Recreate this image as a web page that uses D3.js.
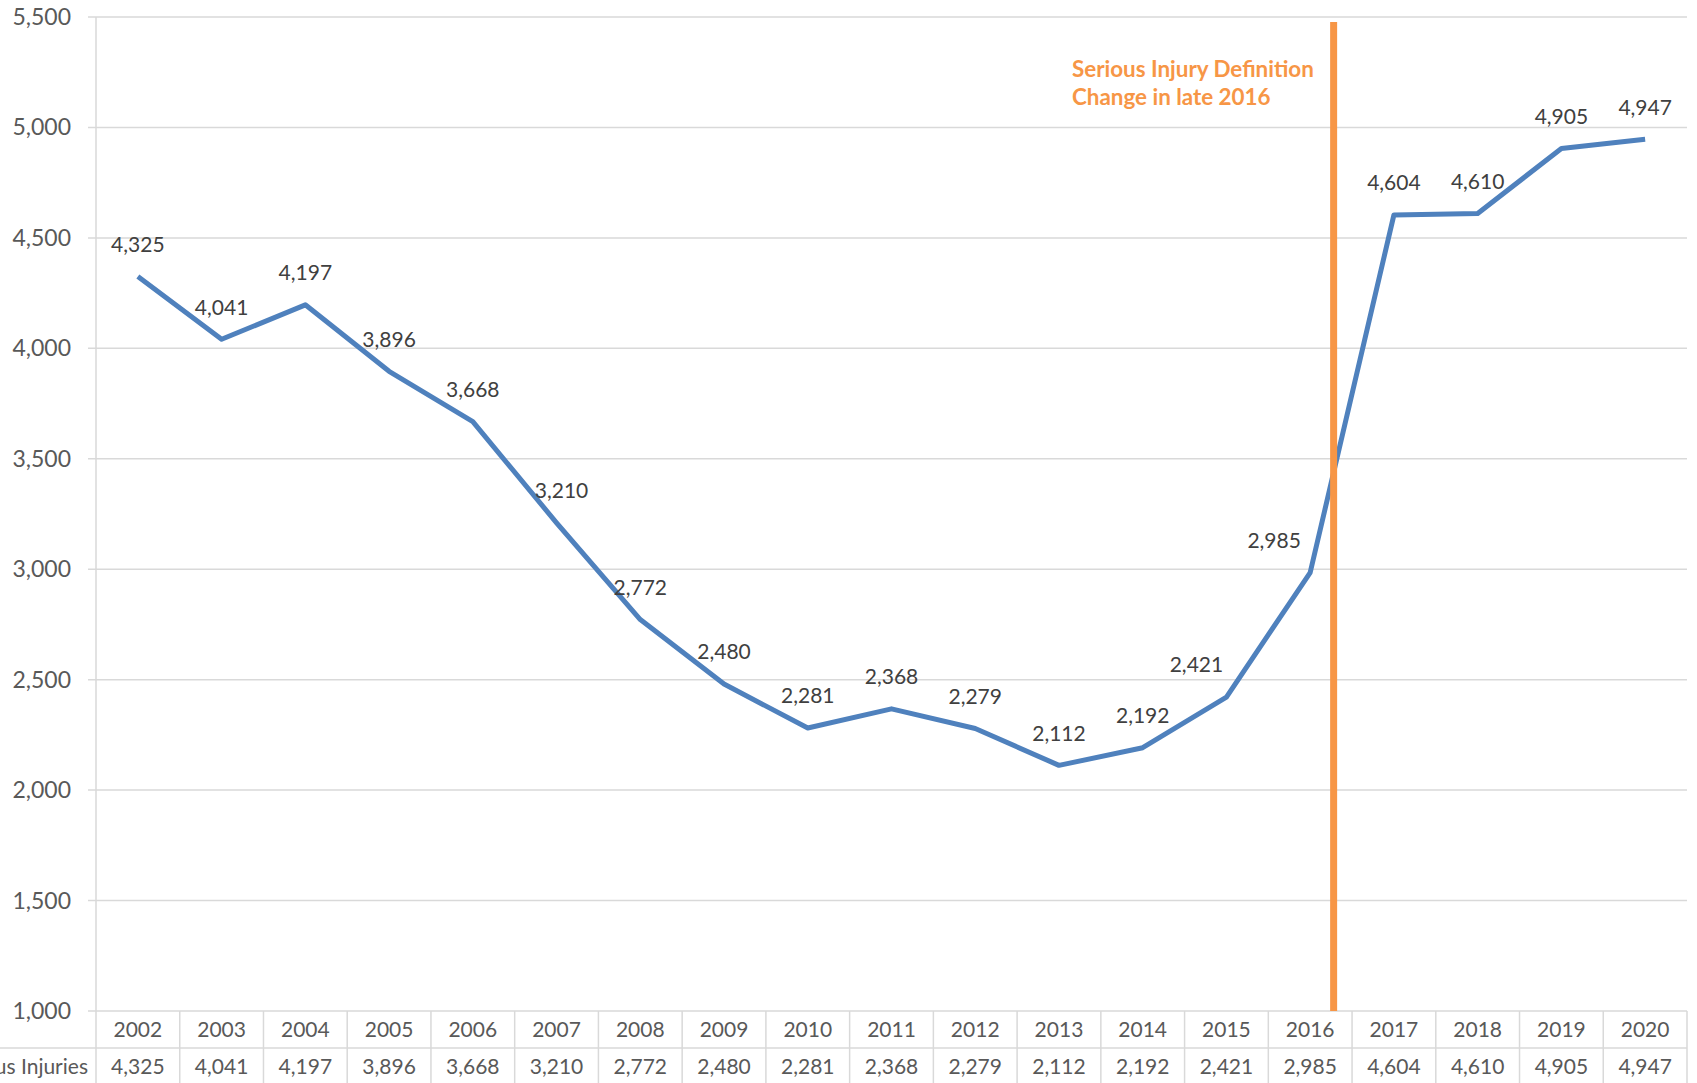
<!DOCTYPE html>
<html>
<head>
<meta charset="utf-8">
<script src="https://cdn.jsdelivr.net/npm/d3@7"></script>
<style>
  body { margin: 0; background: #fff; overflow: hidden; }
  text { font-family: Lato, "Open Sans", sans-serif; }
</style>
</head>
<body>
<script>
// chart data
const years = [2002, 2003, 2004, 2005, 2006, 2007, 2008, 2009, 2010, 2011,
               2012, 2013, 2014, 2015, 2016, 2017, 2018, 2019, 2020];
const injuries = [4325, 4041, 4197, 3896, 3668, 3210, 2772, 2480, 2281, 2368,
                  2279, 2112, 2192, 2421, 2985, 4604, 4610, 4905, 4947];
const yTicks = [1000, 1500, 2000, 2500, 3000, 3500, 4000, 4500, 5000, 5500];
const seriesName = 'Serious Injuries';
const changeYear = 2016.28; // definition change, late 2016
const noteLines = ['Serious Injury Definition', 'Change in late 2016'];

const W = 1697, H = 1083;
const plotLeft = 96, plotRight = 1687, plotTop = 17, plotBottom = 1011;
const rowH = 37;

// a few labels were nudged sideways in the original
const labelShift = { 2007: 5, 2015: -30, 2016: -36 };

const svg = d3.select('body').append('svg')
  .attr('width', W)
  .attr('height', H);

const x = d3.scaleBand().domain(years).range([plotLeft, plotRight]);
const bw = x.bandwidth();
const xYear = d3.scaleLinear()
  .domain([years[0], years[years.length - 1]])
  .range([x(years[0]) + bw / 2, x(years[years.length - 1]) + bw / 2]);
const y = d3.scaleLinear().domain([1000, 5500]).range([plotBottom, plotTop]);

const fmt = d3.format(',');

// gridlines + y labels
svg.append('g')
  .selectAll('line')
  .data(yTicks)
  .enter().append('line')
  .attr('x1', plotLeft - 8)
  .attr('x2', plotRight)
  .attr('y1', d => y(d))
  .attr('y2', d => y(d))
  .attr('stroke', '#d9d9d9')
  .attr('stroke-width', 1.5);

svg.append('g')
  .selectAll('text')
  .data(yTicks)
  .enter().append('text')
  .attr('x', 71)
  .attr('y', d => y(d))
  .attr('dy', '0.35em')
  .attr('text-anchor', 'end')
  .attr('font-size', 23)
  .attr('fill', '#595959')
  .text(d => fmt(d));

// left axis line, runs down through the table
svg.append('line')
  .attr('x1', plotLeft).attr('x2', plotLeft)
  .attr('y1', plotTop).attr('y2', H)
  .attr('stroke', '#d9d9d9')
  .attr('stroke-width', 1.5);

// data table under the chart
const table = svg.append('g');
table.selectAll('line.col')
  .data(years)
  .enter().append('line')
  .attr('class', 'col')
  .attr('x1', d => x(d) + bw).attr('x2', d => x(d) + bw)
  .attr('y1', plotBottom).attr('y2', H)
  .attr('stroke', '#d9d9d9')
  .attr('stroke-width', 1.5);

table.append('line')
  .attr('x1', 0).attr('x2', plotRight)
  .attr('y1', plotBottom + rowH).attr('y2', plotBottom + rowH)
  .attr('stroke', '#d9d9d9')
  .attr('stroke-width', 1.5);

table.selectAll('text.year')
  .data(years)
  .enter().append('text')
  .attr('class', 'year')
  .attr('x', d => x(d) + bw / 2)
  .attr('y', plotBottom + rowH / 2)
  .attr('dy', '0.35em')
  .attr('text-anchor', 'middle')
  .attr('font-size', 21)
  .attr('fill', '#595959')
  .text(d => d);

table.selectAll('text.val')
  .data(injuries)
  .enter().append('text')
  .attr('class', 'val')
  .attr('x', (d, i) => x(years[i]) + bw / 2)
  .attr('y', plotBottom + rowH * 1.5)
  .attr('dy', '0.35em')
  .attr('text-anchor', 'middle')
  .attr('font-size', 21)
  .attr('fill', '#595959')
  .text(d => fmt(d));

// row header is cut by the left edge, as in the original
table.append('text')
  .attr('x', plotLeft - 8)
  .attr('y', plotBottom + rowH * 1.5)
  .attr('dy', '0.35em')
  .attr('text-anchor', 'end')
  .attr('font-size', 21)
  .attr('fill', '#595959')
  .text(seriesName);

// the series line
const line = d3.line()
  .x((d, i) => x(years[i]) + bw / 2)
  .y(d => y(d));

svg.append('path')
  .datum(injuries)
  .attr('fill', 'none')
  .attr('stroke', '#4F81BD')
  .attr('stroke-width', 5)
  .attr('stroke-linejoin', 'round')
  .attr('d', line);

// definition change marker
svg.append('line')
  .attr('x1', xYear(changeYear)).attr('x2', xYear(changeYear))
  .attr('y1', plotTop + 5).attr('y2', plotBottom)
  .attr('stroke', '#F79646')
  .attr('stroke-width', 7);

svg.append('g')
  .selectAll('text')
  .data(noteLines)
  .enter().append('text')
  .attr('x', 1072)
  .attr('y', (d, i) => 77 + i * 28)
  .attr('font-size', 22.4)
  .attr('font-weight', 'bold')
  .attr('fill', '#F79646')
  .text(d => d);

// value labels above points
svg.append('g')
  .selectAll('text')
  .data(injuries)
  .enter().append('text')
  .attr('x', (d, i) => x(years[i]) + bw / 2 + (labelShift[years[i]] || 0))
  .attr('y', d => y(d) - 32)
  .attr('dy', '0.35em')
  .attr('text-anchor', 'middle')
  .attr('font-size', 21)
  .attr('fill', '#404040')
  .text(d => fmt(d));
</script>
</body>
</html>
